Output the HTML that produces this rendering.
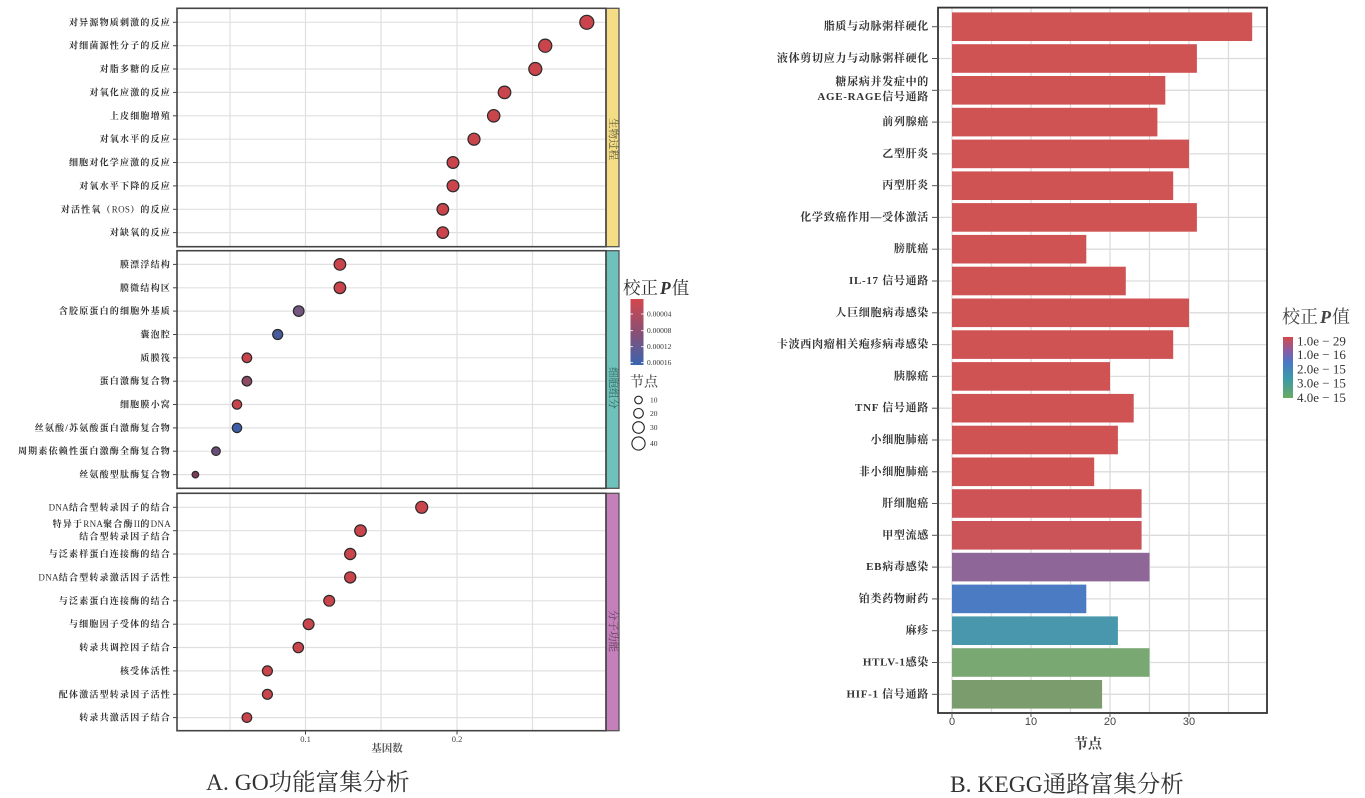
<!DOCTYPE html>
<html><head><meta charset="utf-8"><style>
html,body{margin:0;padding:0;background:#fff;}
svg{display:block;}
.lab{font-family:"Liberation Serif","Noto Serif CJK SC",serif;font-size:9px;font-weight:bold;fill:#333;letter-spacing:1.2px;}
.lab tspan.l{font-weight:normal;letter-spacing:0.3px;}
.rlab{font-family:"Liberation Serif","Noto Serif CJK SC",serif;font-size:11px;font-weight:bold;fill:#333;letter-spacing:0.7px;}
.ser{font-family:"Liberation Serif","Noto Serif CJK SC",serif;}
.sans{font-family:"Liberation Sans","Noto Sans CJK SC",sans-serif;}
</style></head><body>
<svg width="1365" height="798" viewBox="0 0 1365 798" xmlns="http://www.w3.org/2000/svg">
<defs>
<linearGradient id="gl" x1="0" y1="0" x2="0" y2="1">
<stop offset="0" stop-color="#d4474d"/><stop offset="0.5" stop-color="#8a4f74"/><stop offset="1" stop-color="#3a64b0"/>
</linearGradient>
<linearGradient id="gr" x1="0" y1="0" x2="0" y2="1">
<stop offset="0" stop-color="#d4484c"/><stop offset="0.22" stop-color="#8c5ca2"/><stop offset="0.42" stop-color="#4a78c6"/><stop offset="0.68" stop-color="#3c9aa8"/><stop offset="1" stop-color="#6aaa62"/>
</linearGradient>
</defs>
<rect width="1365" height="798" fill="#fff"/>

<!-- ============ LEFT PANEL (GO) ============ -->
<g id="left">
<g stroke="#e0e0e0" stroke-width="1.2">
<line x1="230" y1="8.3" x2="230" y2="246.7"/><line x1="305.5" y1="8.3" x2="305.5" y2="246.7"/><line x1="381" y1="8.3" x2="381" y2="246.7"/><line x1="457" y1="8.3" x2="457" y2="246.7"/><line x1="532.5" y1="8.3" x2="532.5" y2="246.7"/>
<line x1="230" y1="250.7" x2="230" y2="488.3"/><line x1="305.5" y1="250.7" x2="305.5" y2="488.3"/><line x1="381" y1="250.7" x2="381" y2="488.3"/><line x1="457" y1="250.7" x2="457" y2="488.3"/><line x1="532.5" y1="250.7" x2="532.5" y2="488.3"/>
<line x1="230" y1="493.3" x2="230" y2="730.7"/><line x1="305.5" y1="493.3" x2="305.5" y2="730.7"/><line x1="381" y1="493.3" x2="381" y2="730.7"/><line x1="457" y1="493.3" x2="457" y2="730.7"/><line x1="532.5" y1="493.3" x2="532.5" y2="730.7"/>
<line x1="177" y1="22.3" x2="606" y2="22.3"/><line x1="177" y1="45.7" x2="606" y2="45.7"/><line x1="177" y1="69" x2="606" y2="69"/><line x1="177" y1="92.4" x2="606" y2="92.4"/><line x1="177" y1="115.8" x2="606" y2="115.8"/><line x1="177" y1="139.2" x2="606" y2="139.2"/><line x1="177" y1="162.5" x2="606" y2="162.5"/><line x1="177" y1="185.9" x2="606" y2="185.9"/><line x1="177" y1="209.3" x2="606" y2="209.3"/><line x1="177" y1="232.6" x2="606" y2="232.6"/>
<line x1="177" y1="264.4" x2="606" y2="264.4"/><line x1="177" y1="287.8" x2="606" y2="287.8"/><line x1="177" y1="311.1" x2="606" y2="311.1"/><line x1="177" y1="334.5" x2="606" y2="334.5"/><line x1="177" y1="357.8" x2="606" y2="357.8"/><line x1="177" y1="381.2" x2="606" y2="381.2"/><line x1="177" y1="404.5" x2="606" y2="404.5"/><line x1="177" y1="427.9" x2="606" y2="427.9"/><line x1="177" y1="451.2" x2="606" y2="451.2"/><line x1="177" y1="474.6" x2="606" y2="474.6"/>
<line x1="177" y1="507.3" x2="606" y2="507.3"/><line x1="177" y1="530.7" x2="606" y2="530.7"/><line x1="177" y1="554" x2="606" y2="554"/><line x1="177" y1="577.4" x2="606" y2="577.4"/><line x1="177" y1="600.8" x2="606" y2="600.8"/><line x1="177" y1="624.2" x2="606" y2="624.2"/><line x1="177" y1="647.5" x2="606" y2="647.5"/><line x1="177" y1="670.9" x2="606" y2="670.9"/><line x1="177" y1="694.3" x2="606" y2="694.3"/><line x1="177" y1="717.6" x2="606" y2="717.6"/>
</g>

<rect x="606" y="8.3" width="13" height="238.4" fill="#f4dd84" stroke="#555" stroke-width="1.3"/>
<rect x="606" y="250.7" width="13" height="237.6" fill="#6fc2bb" stroke="#555" stroke-width="1.3"/>
<rect x="606" y="493.3" width="13" height="237.4" fill="#c57fba" stroke="#555" stroke-width="1.3"/>
<g class="ser" font-size="10.5" text-anchor="middle" dominant-baseline="central">
<text transform="translate(612.5,139) rotate(90)" fill="#55553a">生物过程</text>
<text transform="translate(612.5,388) rotate(90)" fill="#2f5f5b">细胞组分</text>
<text transform="translate(612.5,631) rotate(90)" fill="#5e3a58">分子功能</text>
</g>

<g fill="none" stroke="#444" stroke-width="1.6">
<rect x="177" y="8.3" width="429" height="238.4"/>
<rect x="177" y="250.7" width="429" height="237.6"/>
<rect x="177" y="493.3" width="429" height="237.4"/>
</g>

<g stroke="#444" stroke-width="1">
<line x1="173" y1="22.3" x2="177" y2="22.3"/><line x1="173" y1="45.7" x2="177" y2="45.7"/><line x1="173" y1="69" x2="177" y2="69"/><line x1="173" y1="92.4" x2="177" y2="92.4"/><line x1="173" y1="115.8" x2="177" y2="115.8"/><line x1="173" y1="139.2" x2="177" y2="139.2"/><line x1="173" y1="162.5" x2="177" y2="162.5"/><line x1="173" y1="185.9" x2="177" y2="185.9"/><line x1="173" y1="209.3" x2="177" y2="209.3"/><line x1="173" y1="232.6" x2="177" y2="232.6"/>
<line x1="173" y1="264.4" x2="177" y2="264.4"/><line x1="173" y1="287.8" x2="177" y2="287.8"/><line x1="173" y1="311.1" x2="177" y2="311.1"/><line x1="173" y1="334.5" x2="177" y2="334.5"/><line x1="173" y1="357.8" x2="177" y2="357.8"/><line x1="173" y1="381.2" x2="177" y2="381.2"/><line x1="173" y1="404.5" x2="177" y2="404.5"/><line x1="173" y1="427.9" x2="177" y2="427.9"/><line x1="173" y1="451.2" x2="177" y2="451.2"/><line x1="173" y1="474.6" x2="177" y2="474.6"/>
<line x1="173" y1="507.3" x2="177" y2="507.3"/><line x1="173" y1="530.7" x2="177" y2="530.7"/><line x1="173" y1="554" x2="177" y2="554"/><line x1="173" y1="577.4" x2="177" y2="577.4"/><line x1="173" y1="600.8" x2="177" y2="600.8"/><line x1="173" y1="624.2" x2="177" y2="624.2"/><line x1="173" y1="647.5" x2="177" y2="647.5"/><line x1="173" y1="670.9" x2="177" y2="670.9"/><line x1="173" y1="694.3" x2="177" y2="694.3"/><line x1="173" y1="717.6" x2="177" y2="717.6"/>
<line x1="305.5" y1="731" x2="305.5" y2="734.5"/><line x1="457" y1="731" x2="457" y2="734.5"/>
</g>

<g class="lab" text-anchor="end" dominant-baseline="central">
<text x="171" y="22.3">对异源物质刺激的反应</text>
<text x="171" y="45.7">对细菌源性分子的反应</text>
<text x="171" y="69">对脂多糖的反应</text>
<text x="171" y="92.4">对氧化应激的反应</text>
<text x="171" y="115.8">上皮细胞增殖</text>
<text x="171" y="139.2">对氧水平的反应</text>
<text x="171" y="162.5">细胞对化学应激的反应</text>
<text x="171" y="185.9">对氧水平下降的反应</text>
<text x="171" y="209.3">对活性氧（<tspan class="l">ROS</tspan>）的反应</text>
<text x="171" y="232.6">对缺氧的反应</text>

<text x="171" y="264.4">膜漂浮结构</text>
<text x="171" y="287.8">膜微结构区</text>
<text x="171" y="311.1">含胶原蛋白的细胞外基质</text>
<text x="171" y="334.5">囊泡腔</text>
<text x="171" y="357.8">质膜筏</text>
<text x="171" y="381.2">蛋白激酶复合物</text>
<text x="171" y="404.5">细胞膜小窝</text>
<text x="171" y="427.9">丝氨酸/苏氨酸蛋白激酶复合物</text>
<text x="171" y="451.2">周期素依赖性蛋白激酶全酶复合物</text>
<text x="171" y="474.6">丝氨酸型肽酶复合物</text>

<text x="171" y="507.3"><tspan class="l">DNA</tspan>结合型转录因子的结合</text>
<text x="171" y="524">特异于<tspan class="l">RNA</tspan>聚合酶<tspan class="l">II</tspan>的<tspan class="l">DNA</tspan></text>
<text x="171" y="536.5">结合型转录因子结合</text>
<text x="171" y="554">与泛素样蛋白连接酶的结合</text>
<text x="171" y="577.4"><tspan class="l">DNA</tspan>结合型转录激活因子活性</text>
<text x="171" y="600.8">与泛素蛋白连接酶的结合</text>
<text x="171" y="624.2">与细胞因子受体的结合</text>
<text x="171" y="647.5">转录共调控因子结合</text>
<text x="171" y="670.9">核受体活性</text>
<text x="171" y="694.3">配体激活型转录因子活性</text>
<text x="171" y="717.6">转录共激活因子结合</text>
</g>

<g stroke="#2a2a2a" stroke-width="1.2">
<circle cx="586.8" cy="22.3" r="7" fill="#c9444b"/>
<circle cx="545.2" cy="45.7" r="6.6" fill="#c9444b"/>
<circle cx="535.3" cy="69" r="6.5" fill="#c9444b"/>
<circle cx="504.5" cy="92.4" r="6.3" fill="#c9444b"/>
<circle cx="493.7" cy="115.8" r="6.2" fill="#c9444b"/>
<circle cx="474" cy="139.2" r="6" fill="#c9444b"/>
<circle cx="453" cy="162.5" r="5.9" fill="#c9444b"/>
<circle cx="453" cy="185.9" r="5.9" fill="#c9444b"/>
<circle cx="442.8" cy="209.3" r="5.8" fill="#c9444b"/>
<circle cx="442.8" cy="232.6" r="5.8" fill="#c9444b"/>

<circle cx="339.9" cy="264.4" r="5.8" fill="#c9444b"/>
<circle cx="339.9" cy="287.8" r="5.8" fill="#c9444b"/>
<circle cx="298.7" cy="311.1" r="5.3" fill="#72567f"/>
<circle cx="277.7" cy="334.5" r="5" fill="#465b9b"/>
<circle cx="246.9" cy="357.8" r="4.8" fill="#c9424c"/>
<circle cx="246.9" cy="381.2" r="4.8" fill="#8d4a63"/>
<circle cx="237" cy="404.5" r="4.7" fill="#c9424c"/>
<circle cx="237" cy="427.9" r="4.7" fill="#3d5ea6"/>
<circle cx="216" cy="451.2" r="4.3" fill="#6a4d78"/>
<circle cx="195.4" cy="474.6" r="3.3" fill="#7d3d5a"/>

<circle cx="421.7" cy="507.3" r="6" fill="#c9444b"/>
<circle cx="360.5" cy="530.7" r="5.8" fill="#c9444b"/>
<circle cx="350.2" cy="554" r="5.6" fill="#c9444b"/>
<circle cx="350.2" cy="577.4" r="5.6" fill="#c9444b"/>
<circle cx="329.2" cy="600.8" r="5.4" fill="#c9444b"/>
<circle cx="308.6" cy="624.2" r="5.4" fill="#c9444b"/>
<circle cx="298.3" cy="647.5" r="5.2" fill="#c9444b"/>
<circle cx="267.4" cy="670.9" r="5" fill="#c9444b"/>
<circle cx="267.4" cy="694.3" r="5" fill="#c9444b"/>
<circle cx="246.9" cy="717.6" r="4.8" fill="#c9444b"/>
</g>

<g class="ser" fill="#444" text-anchor="middle" dominant-baseline="central">
<text x="305.5" y="739" font-size="8.5">0.1</text>
<text x="457" y="739" font-size="8.5">0.2</text>
<text x="387" y="749" font-size="10.5" font-weight="bold" fill="#555">基因数</text>
</g>

<g class="ser" fill="#333">
<text x="623" y="288" font-size="17.5" dominant-baseline="central">校正<tspan font-style="italic" font-weight="bold" dx="2">P</tspan><tspan dx="1">值</tspan></text>
</g>
<rect x="630.5" y="299" width="13" height="66" fill="url(#gl)"/>
<g stroke="#fff" stroke-width="0.8">
<line x1="630.5" y1="314" x2="633" y2="314"/><line x1="641" y1="314" x2="643.5" y2="314"/>
<line x1="630.5" y1="330.7" x2="633" y2="330.7"/><line x1="641" y1="330.7" x2="643.5" y2="330.7"/>
<line x1="630.5" y1="346.7" x2="633" y2="346.7"/><line x1="641" y1="346.7" x2="643.5" y2="346.7"/>
<line x1="630.5" y1="362.7" x2="633" y2="362.7"/><line x1="641" y1="362.7" x2="643.5" y2="362.7"/>
</g>
<g class="ser" font-size="7.5" fill="#333" dominant-baseline="central">
<text x="647" y="314">0.00004</text>
<text x="647" y="330.7">0.00008</text>
<text x="647" y="346.7">0.00012</text>
<text x="647" y="362.7">0.00016</text>
</g>
<text class="ser" x="630" y="383" font-size="14" fill="#333" dominant-baseline="central">节点</text>
<g fill="none" stroke="#222" stroke-width="1.1">
<circle cx="638.5" cy="400" r="3.8"/>
<circle cx="638.5" cy="413.3" r="4.8"/>
<circle cx="638.5" cy="427.5" r="5.8"/>
<circle cx="638.5" cy="443.5" r="6.6"/>
</g>
<g class="ser" font-size="7.5" fill="#333" dominant-baseline="central">
<text x="650" y="400">10</text><text x="650" y="413.3">20</text><text x="650" y="427.5">30</text><text x="650" y="443.5">40</text>
</g>

<text class="ser" x="206" y="783" font-size="23.5" fill="#333" dominant-baseline="central">A. GO功能富集分析</text>
</g>

<!-- ============ RIGHT PANEL (KEGG) ============ -->
<g id="right">
<g stroke="#dcdcdc" stroke-width="1.3">
<line x1="991.5" y1="7.6" x2="991.5" y2="713"/><line x1="1031" y1="7.6" x2="1031" y2="713"/><line x1="1070.5" y1="7.6" x2="1070.5" y2="713"/><line x1="1110" y1="7.6" x2="1110" y2="713"/><line x1="1149.5" y1="7.6" x2="1149.5" y2="713"/><line x1="1189" y1="7.6" x2="1189" y2="713"/><line x1="1228.5" y1="7.6" x2="1228.5" y2="713"/>
<line x1="952" y1="7.6" x2="952" y2="713"/>
</g>
<g stroke="#dcdcdc" stroke-width="1.3">
<line x1="938" x2="1267" y1="26.7" y2="26.7"/><line x1="938" x2="1267" y1="58.5" y2="58.5"/><line x1="938" x2="1267" y1="90.3" y2="90.3"/><line x1="938" x2="1267" y1="122.1" y2="122.1"/><line x1="938" x2="1267" y1="153.9" y2="153.9"/><line x1="938" x2="1267" y1="185.7" y2="185.7"/><line x1="938" x2="1267" y1="217.4" y2="217.4"/><line x1="938" x2="1267" y1="249.2" y2="249.2"/><line x1="938" x2="1267" y1="281" y2="281"/><line x1="938" x2="1267" y1="312.8" y2="312.8"/><line x1="938" x2="1267" y1="344.6" y2="344.6"/><line x1="938" x2="1267" y1="376.4" y2="376.4"/><line x1="938" x2="1267" y1="408.2" y2="408.2"/><line x1="938" x2="1267" y1="440" y2="440"/><line x1="938" x2="1267" y1="471.8" y2="471.8"/><line x1="938" x2="1267" y1="503.5" y2="503.5"/><line x1="938" x2="1267" y1="535.3" y2="535.3"/><line x1="938" x2="1267" y1="567.1" y2="567.1"/><line x1="938" x2="1267" y1="598.9" y2="598.9"/><line x1="938" x2="1267" y1="630.7" y2="630.7"/><line x1="938" x2="1267" y1="662.5" y2="662.5"/><line x1="938" x2="1267" y1="694.3" y2="694.3"/>
</g>
<g>
<rect x="952" y="12.4" width="300.2" height="28.6" fill="#d05354"/>
<rect x="952" y="44.2" width="244.9" height="28.6" fill="#d05354"/>
<rect x="952" y="76" width="213.3" height="28.6" fill="#d05354"/>
<rect x="952" y="107.8" width="205.4" height="28.6" fill="#d05354"/>
<rect x="952" y="139.6" width="237" height="28.6" fill="#d05354"/>
<rect x="952" y="171.4" width="221.2" height="28.6" fill="#d05354"/>
<rect x="952" y="203.1" width="244.9" height="28.6" fill="#d05354"/>
<rect x="952" y="234.9" width="134.3" height="28.6" fill="#d05354"/>
<rect x="952" y="266.7" width="173.8" height="28.6" fill="#d05354"/>
<rect x="952" y="298.5" width="237" height="28.6" fill="#d05354"/>
<rect x="952" y="330.3" width="221.2" height="28.6" fill="#d05354"/>
<rect x="952" y="362.1" width="158" height="28.6" fill="#d05354"/>
<rect x="952" y="393.9" width="181.7" height="28.6" fill="#d05354"/>
<rect x="952" y="425.7" width="165.9" height="28.6" fill="#d05354"/>
<rect x="952" y="457.5" width="142.2" height="28.6" fill="#d05354"/>
<rect x="952" y="489.2" width="189.6" height="28.6" fill="#cd5357"/>
<rect x="952" y="521" width="189.6" height="28.6" fill="#cb5458"/>
<rect x="952" y="552.8" width="197.5" height="28.6" fill="#8f6698"/>
<rect x="952" y="584.6" width="134.3" height="28.6" fill="#4b7bc3"/>
<rect x="952" y="616.4" width="165.9" height="28.6" fill="#4997ac"/>
<rect x="952" y="648.2" width="197.5" height="28.6" fill="#79a872"/>
<rect x="952" y="680" width="150.1" height="28.6" fill="#7b9c6d"/>
</g>
<rect x="938" y="7.6" width="329" height="705.4" fill="none" stroke="#333" stroke-width="1.8"/>
<g stroke="#555" stroke-width="1">
<line x1="932" x2="938" y1="26.7" y2="26.7"/><line x1="932" x2="938" y1="58.5" y2="58.5"/><line x1="932" x2="938" y1="90.3" y2="90.3"/><line x1="932" x2="938" y1="122.1" y2="122.1"/><line x1="932" x2="938" y1="153.9" y2="153.9"/><line x1="932" x2="938" y1="185.7" y2="185.7"/><line x1="932" x2="938" y1="217.4" y2="217.4"/><line x1="932" x2="938" y1="249.2" y2="249.2"/><line x1="932" x2="938" y1="281" y2="281"/><line x1="932" x2="938" y1="312.8" y2="312.8"/><line x1="932" x2="938" y1="344.6" y2="344.6"/><line x1="932" x2="938" y1="376.4" y2="376.4"/><line x1="932" x2="938" y1="408.2" y2="408.2"/><line x1="932" x2="938" y1="440" y2="440"/><line x1="932" x2="938" y1="471.8" y2="471.8"/><line x1="932" x2="938" y1="503.5" y2="503.5"/><line x1="932" x2="938" y1="535.3" y2="535.3"/><line x1="932" x2="938" y1="567.1" y2="567.1"/><line x1="932" x2="938" y1="598.9" y2="598.9"/><line x1="932" x2="938" y1="630.7" y2="630.7"/><line x1="932" x2="938" y1="662.5" y2="662.5"/><line x1="932" x2="938" y1="694.3" y2="694.3"/>
<line x1="952" y1="713" x2="952" y2="717"/><line x1="1031" y1="713" x2="1031" y2="717"/><line x1="1110" y1="713" x2="1110" y2="717"/><line x1="1189" y1="713" x2="1189" y2="717"/>
</g>
<g class="rlab" text-anchor="end" dominant-baseline="central">
<text x="929" y="26.7">脂质与动脉粥样硬化</text>
<text x="929" y="58.5">液体剪切应力与动脉粥样硬化</text>
<text x="929" y="82">糖尿病并发症中的</text>
<text x="929" y="97">AGE-RAGE信号通路</text>
<text x="929" y="122.1">前列腺癌</text>
<text x="929" y="153.9">乙型肝炎</text>
<text x="929" y="185.7">丙型肝炎</text>
<text x="929" y="217.4">化学致癌作用—受体激活</text>
<text x="929" y="249.2">膀胱癌</text>
<text x="929" y="281">IL-17 信号通路</text>
<text x="929" y="312.8">人巨细胞病毒感染</text>
<text x="929" y="344.6">卡波西肉瘤相关疱疹病毒感染</text>
<text x="929" y="376.4">胰腺癌</text>
<text x="929" y="408.2">TNF 信号通路</text>
<text x="929" y="440">小细胞肺癌</text>
<text x="929" y="471.8">非小细胞肺癌</text>
<text x="929" y="503.5">肝细胞癌</text>
<text x="929" y="535.3">甲型流感</text>
<text x="929" y="567.1">EB病毒感染</text>
<text x="929" y="598.9">铂类药物耐药</text>
<text x="929" y="630.7">麻疹</text>
<text x="929" y="662.5">HTLV-1感染</text>
<text x="929" y="694.3">HIF-1 信号通路</text>
</g>
<g class="sans" font-size="11" fill="#444" text-anchor="middle" dominant-baseline="central">
<text x="952" y="722">0</text><text x="1031" y="722">10</text><text x="1110" y="722">20</text><text x="1189" y="722">30</text>
</g>
<text class="ser" x="1088" y="745" font-size="14" font-weight="bold" fill="#444" text-anchor="middle" dominant-baseline="central">节点</text>

<text class="ser" x="1282" y="317" font-size="18" fill="#444" dominant-baseline="central">校正<tspan font-style="italic" font-weight="bold" dx="2">P</tspan><tspan dx="1">值</tspan></text>
<rect x="1283" y="337" width="10" height="61" fill="url(#gr)"/>
<g class="ser" font-size="13" fill="#333" dominant-baseline="central">
<text x="1297" y="341">1.0e − 29</text>
<text x="1297" y="354.5">1.0e − 16</text>
<text x="1297" y="369">2.0e − 15</text>
<text x="1297" y="383">3.0e − 15</text>
<text x="1297" y="397.5">4.0e − 15</text>
</g>

<text class="ser" x="950" y="785" font-size="23.5" fill="#333" dominant-baseline="central">B. KEGG通路富集分析</text>
</g>
</svg>
</body></html>
